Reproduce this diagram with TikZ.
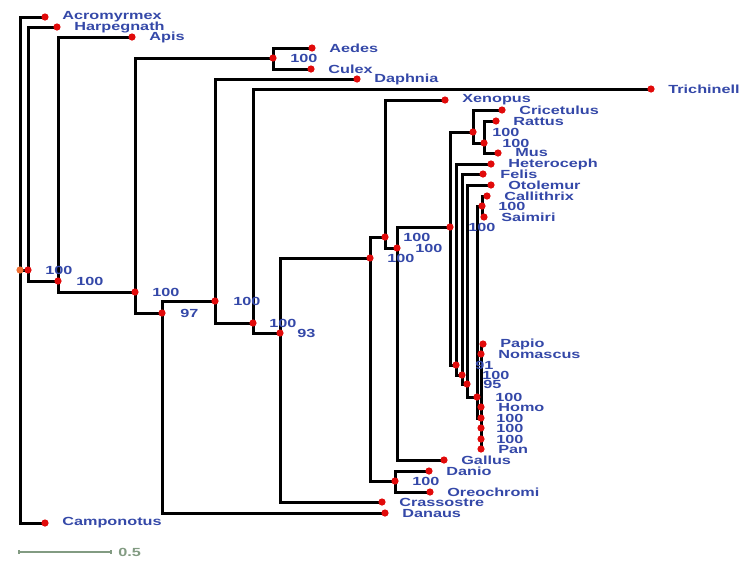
\documentclass[tikz,border=0pt]{standalone}
\usepackage{fontspec}
\newfontfamily\treefont[FakeStretch=1.38]{Liberation Sans}
\usetikzlibrary{positioning}
\definecolor{taxonblue}{RGB}{52,72,168}
\definecolor{nodered}{RGB}{225,10,10}
\definecolor{rootorange}{RGB}{240,110,50}
\definecolor{scalegreen}{RGB}{130,155,130}
\tikzset{
  branch/.style={line width=0.6mm},
  taxon/.style={font=\treefont\bfseries\fontsize{6.7}{8}\selectfont, text=taxonblue, inner sep=0pt, anchor=west},
  boot/.style={taxon}
}
\begin{document}
\begin{tikzpicture}[x=0.02cm, y=-0.02cm]
  \useasboundingbox (0,0) rectangle (750,562);
  \coordinate (root) at (20,270);
  \coordinate (nA) at (28,270);
  \coordinate (nB) at (58,281);
  \coordinate (nC) at (135,292);
  \coordinate (nMosq) at (273,58);
  \coordinate (nD) at (162,313);
  \coordinate (nE) at (215,301);
  \coordinate (nF) at (253,323);
  \coordinate (nG) at (280,333);
  \coordinate (nH) at (370,258);
  \coordinate (nI) at (385,237);
  \coordinate (nJ) at (397,248);
  \coordinate (nFish) at (395,481);
  \coordinate (nK) at (450,227);
  \coordinate (nRod) at (473,132);
  \coordinate (nMur) at (484,143);
  \coordinate (nP1) at (456,365);
  \coordinate (nP2) at (462,375);
  \coordinate (nP3) at (467,384);
  \coordinate (nP4) at (477,397);
  \coordinate (nNew) at (482,206);
  \coordinate (nP5) at (481,418);
  \coordinate (nP6) at (481,428);
  \coordinate (nP7) at (481,439);
  \coordinate (Acromyrmex) at (45,17);
  \coordinate (Harpegnath) at (57,27);
  \coordinate (Apis) at (132,37);
  \coordinate (Aedes) at (312,48);
  \coordinate (Culex) at (311,69);
  \coordinate (Daphnia) at (357,79);
  \coordinate (Trichinell) at (651,89);
  \coordinate (Xenopus) at (445,100);
  \coordinate (Cricetulus) at (502,110);
  \coordinate (Rattus) at (496,121);
  \coordinate (Mus) at (498,153);
  \coordinate (Heteroceph) at (491,164);
  \coordinate (Felis) at (483,174);
  \coordinate (Otolemur) at (491,185);
  \coordinate (Callithrix) at (487,196);
  \coordinate (Saimiri) at (484,217);
  \coordinate (Papio) at (483,344);
  \coordinate (Nomascus) at (481,354);
  \coordinate (Homo) at (481,407);
  \coordinate (Pan) at (481,449);
  \coordinate (Gallus) at (444,460);
  \coordinate (Danio) at (429,471);
  \coordinate (Oreochromi) at (430,492);
  \coordinate (Crassostre) at (382,502);
  \coordinate (Danaus) at (385,513);
  \coordinate (Camponotus) at (45,523);

  \draw[branch] (root) |- (Acromyrmex) (root) |- (nA) (root) |- (Camponotus);
  \draw[branch] (nA) |- (Harpegnath) (nA) |- (nB);
  \draw[branch] (nB) |- (Apis) (nB) |- (nC);
  \draw[branch] (nC) |- (nMosq) (nC) |- (nD);
  \draw[branch] (nMosq) |- (Aedes) (nMosq) |- (Culex);
  \draw[branch] (nD) |- (nE) (nD) |- (Danaus);
  \draw[branch] (nE) |- (Daphnia) (nE) |- (nF);
  \draw[branch] (nF) |- (Trichinell) (nF) |- (nG);
  \draw[branch] (nG) |- (nH) (nG) |- (Crassostre);
  \draw[branch] (nH) |- (nI) (nH) |- (nFish);
  \draw[branch] (nI) |- (Xenopus) (nI) |- (nJ);
  \draw[branch] (nJ) |- (nK) (nJ) |- (Gallus);
  \draw[branch] (nFish) |- (Danio) (nFish) |- (Oreochromi);
  \draw[branch] (nK) |- (nRod) (nK) |- (nP1);
  \draw[branch] (nRod) |- (Cricetulus) (nRod) |- (nMur);
  \draw[branch] (nMur) |- (Rattus) (nMur) |- (Mus);
  \draw[branch] (nP1) |- (Heteroceph) (nP1) |- (nP2);
  \draw[branch] (nP2) |- (Felis) (nP2) |- (nP3);
  \draw[branch] (nP3) |- (Otolemur) (nP3) |- (nP4);
  \draw[branch] (nP4) |- (nNew) (nP4) |- (nP5);
  \draw[branch] (nNew) |- (Callithrix) (nNew) |- (Saimiri);
  \draw[branch] (nP5) |- (Papio) (nP5) |- (nP6);
  \draw[branch] (nP6) |- (Nomascus) (nP6) |- (nP7);
  \draw[branch] (nP7) |- (Homo) (nP7) |- (Pan);

  \fill[rootorange] (root) circle (0.72mm);
  \fill[nodered] (nA) circle (0.72mm) (nB) circle (0.72mm) (nC) circle (0.72mm) (nMosq) circle (0.72mm)
    (nD) circle (0.72mm) (nE) circle (0.72mm) (nF) circle (0.72mm) (nG) circle (0.72mm)
    (nH) circle (0.72mm) (nI) circle (0.72mm) (nJ) circle (0.72mm) (nFish) circle (0.72mm)
    (nK) circle (0.72mm) (nRod) circle (0.72mm) (nMur) circle (0.72mm) (nNew) circle (0.72mm)
    (nP1) circle (0.72mm) (nP2) circle (0.72mm) (nP3) circle (0.72mm) (nP4) circle (0.72mm)
    (nP5) circle (0.72mm) (nP6) circle (0.72mm) (nP7) circle (0.72mm);
  \fill[nodered] (Acromyrmex) circle (0.72mm) (Harpegnath) circle (0.72mm) (Apis) circle (0.72mm)
    (Aedes) circle (0.72mm) (Culex) circle (0.72mm) (Daphnia) circle (0.72mm) (Trichinell) circle (0.72mm)
    (Xenopus) circle (0.72mm) (Cricetulus) circle (0.72mm) (Rattus) circle (0.72mm) (Mus) circle (0.72mm)
    (Heteroceph) circle (0.72mm) (Felis) circle (0.72mm) (Otolemur) circle (0.72mm) (Callithrix) circle (0.72mm)
    (Saimiri) circle (0.72mm) (Papio) circle (0.72mm) (Nomascus) circle (0.72mm) (Homo) circle (0.72mm)
    (Pan) circle (0.72mm) (Gallus) circle (0.72mm) (Danio) circle (0.72mm) (Oreochromi) circle (0.72mm)
    (Crassostre) circle (0.72mm) (Danaus) circle (0.72mm) (Camponotus) circle (0.72mm);

  \node[taxon, right=3.4mm of Acromyrmex] (tAcromyrmex) {Acromyrmex};
  \node[taxon, right=3.4mm of Harpegnath] (tHarpegnath) {Harpegnath};
  \node[taxon, right=3.4mm of Apis] (tApis) {Apis};
  \node[taxon, right=3.4mm of Aedes] (tAedes) {Aedes};
  \node[taxon, right=3.4mm of Culex] (tCulex) {Culex};
  \node[taxon, right=3.4mm of Daphnia] (tDaphnia) {Daphnia};
  \node[taxon, right=3.4mm of Trichinell] (tTrichinell) {Trichinell};
  \node[taxon, right=3.4mm of Xenopus] (tXenopus) {Xenopus};
  \node[taxon, right=3.4mm of Cricetulus] (tCricetulus) {Cricetulus};
  \node[taxon, right=3.4mm of Rattus] (tRattus) {Rattus};
  \node[taxon, right=3.4mm of Mus] (tMus) {Mus};
  \node[taxon, right=3.4mm of Heteroceph] (tHeteroceph) {Heteroceph};
  \node[taxon, right=3.4mm of Felis] (tFelis) {Felis};
  \node[taxon, right=3.4mm of Otolemur] (tOtolemur) {Otolemur};
  \node[taxon, right=3.4mm of Callithrix] (tCallithrix) {Callithrix};
  \node[taxon, right=3.4mm of Saimiri] (tSaimiri) {Saimiri};
  \node[taxon, right=3.4mm of Papio] (tPapio) {Papio};
  \node[taxon, right=3.4mm of Nomascus] (tNomascus) {Nomascus};
  \node[taxon, right=3.4mm of Homo] (tHomo) {Homo};
  \node[taxon, right=3.4mm of Pan] (tPan) {Pan};
  \node[taxon, right=3.4mm of Gallus] (tGallus) {Gallus};
  \node[taxon, right=3.4mm of Danio] (tDanio) {Danio};
  \node[taxon, right=3.4mm of Oreochromi] (tOreochromi) {Oreochromi};
  \node[taxon, right=3.4mm of Crassostre] (tCrassostre) {Crassostre};
  \node[taxon, right=3.4mm of Danaus] (tDanaus) {Danaus};
  \node[taxon, right=3.4mm of Camponotus] (tCamponotus) {Camponotus};

  \node[boot, right=3.4mm of nA] (bA) {100};
  \node[boot, right=3.6mm of nB] (bB) {100};
  \node[boot, right=3.4mm of nC] (bC) {100};
  \node[boot, right=3.4mm of nMosq] (bMosq) {100};
  \node[boot, right=3.6mm of nD] (bD) {97};
  \node[boot, right=3.6mm of nE] (bE) {100};
  \node[boot, right=3.2mm of nF] (bF) {100};
  \node[boot, right=3.4mm of nG] (bG) {93};
  \node[boot, right=3.4mm of nH] (bH) {100};
  \node[boot, right=3.6mm of nI] (bI) {100};
  \node[boot, right=3.6mm of nJ] (bJ) {100};
  \node[boot, right=3.4mm of nFish] (bFish) {100};
  \node[boot, right=3.6mm of nK] (bK) {100};
  \node[boot, right=3.8mm of nRod] (bRod) {100};
  \node[boot, right=3.6mm of nMur] (bMur) {100};
  \node[boot, right=3.2mm of nNew] (bNew) {100};
  \node[boot, right=3.8mm of nP1] (bP1) {91};
  \node[boot, right=4mm of nP2] (bP2) {100};
  \node[boot, right=3.2mm of nP3] (bP3) {95};
  \node[boot, right=3.6mm of nP4] (bP4) {100};
  \node[boot, right=3mm of nP5] (bP5) {100};
  \node[boot, right=3mm of nP6] (bP6) {100};
  \node[boot, right=3mm of nP7] (bP7) {100};

  \coordinate (barL) at (19,552);
  \coordinate (barR) at (111,552);
  \draw[scalegreen, line width=0.25mm] (barL) -- (barR) ([yshift=-0.35mm]barL) -- ([yshift=0.35mm]barL) ([yshift=-0.35mm]barR) -- ([yshift=0.35mm]barR);
  \node[taxon, text=scalegreen, right=1.4mm of barR] (tBar) {0.5};
\end{tikzpicture}
\end{document}
